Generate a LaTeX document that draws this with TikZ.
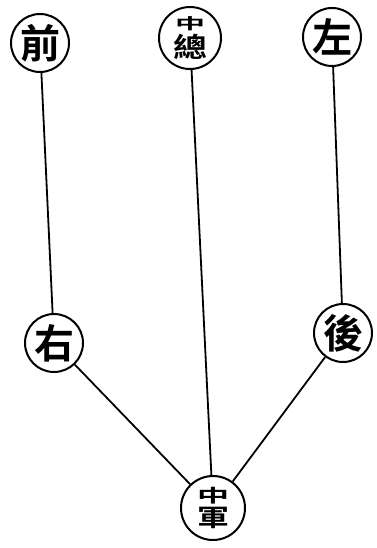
\documentclass[tikz,border=0pt]{standalone}
\usepackage{fontspec}
\usepackage{graphicx}
\newfontfamily\cjk{Noto Sans CJK TC}[BoldFont={* Bold}]
\begin{document}
\begin{tikzpicture}[x=1pt,y=-1pt,
  unit/.style={circle,draw,line width=2pt,minimum size=58pt,inner sep=0pt,font=\cjk\bfseries\fontsize{40}{40}\selectfont},
  link/.style={line width=1.8pt}]
\useasboundingbox (0,0) rectangle (376,548);
\node[unit] (qian) at (40,43) {前};
\node[unit,minimum size=62pt] (zong) at (190,38) {\shortstack{\scalebox{0.75}[0.38]{中}\\\scalebox{0.85}[0.68]{總}}};
\node[unit] (zuo) at (332,37) {左};
\node[unit] (you) at (54,343) {右};
\node[unit] (hou) at (343,333) {後};
\node[unit,minimum size=64pt] (zj) at (213,508) {\shortstack{\scalebox{0.8}[0.45]{中}\\\scalebox{0.8}[0.6]{軍}}};
\draw[link] (qian) -- (you);
\draw[link] (zuo) -- (hou);
\draw[link] (zong) -- (zj);
\draw[link] (you) -- (zj);
\draw[link] (hou) -- (zj);
\end{tikzpicture}
\end{document}
